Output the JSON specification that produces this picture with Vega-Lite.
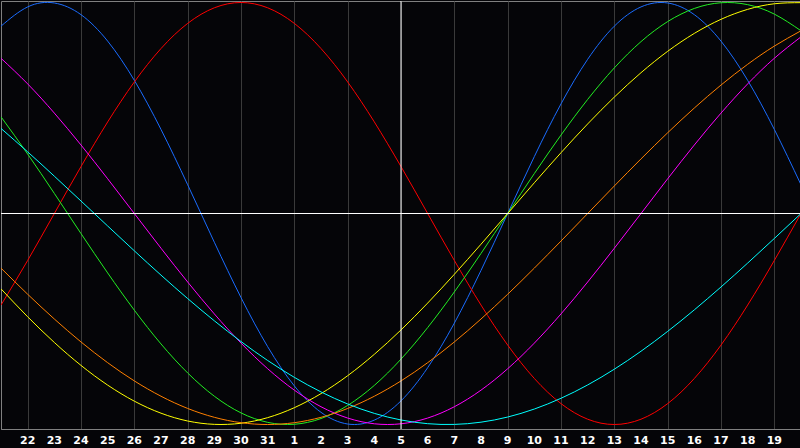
{
  "$schema": "https://vega.github.io/schema/vega-lite/v6.json",
  "width": 800,
  "height": 428,
  "padding": 0,
  "background": "#050508",
  "config": {
    "view": {"stroke": "#808080", "strokeWidth": 1, "fill": "#050508"}
  },
  "datasets": {
    "curves": [
      {"d":0,"v":0.8879,"s":"Physical"},{"d":1,"v":0.9791,"s":"Physical"},{"d":2,"v":0.9977,"s":"Physical"},{"d":3,"v":0.9423,"s":"Physical"},{"d":4,"v":0.8170,"s":"Physical"},{"d":5,"v":0.6311,"s":"Physical"},{"d":6,"v":0.3984,"s":"Physical"},{"d":7,"v":0.1362,"s":"Physical"},{"d":8,"v":-0.1362,"s":"Physical"},{"d":9,"v":-0.3984,"s":"Physical"},{"d":10,"v":-0.6311,"s":"Physical"},{"d":11,"v":-0.8170,"s":"Physical"},{"d":12,"v":-0.9423,"s":"Physical"},{"d":13,"v":-0.9977,"s":"Physical"},{"d":14,"v":-0.9791,"s":"Physical"},{"d":15,"v":-0.8879,"s":"Physical"},{"d":16,"v":-0.7308,"s":"Physical"},{"d":17,"v":-0.5196,"s":"Physical"},{"d":18,"v":-0.2698,"s":"Physical"},{"d":19,"v":0,"s":"Physical"},{"d":20,"v":0.2698,"s":"Physical"},{"d":21,"v":0.5196,"s":"Physical"},{"d":22,"v":0.7308,"s":"Physical"},{"d":23,"v":0.8879,"s":"Physical"},{"d":24,"v":0.9791,"s":"Physical"},{"d":25,"v":0.9977,"s":"Physical"},{"d":26,"v":0.9423,"s":"Physical"},{"d":27,"v":0.8170,"s":"Physical"},{"d":28,"v":0.6311,"s":"Physical"},{"d":29,"v":0.3984,"s":"Physical"},{"d":30,"v":0.1362,"s":"Physical"},

      {"d":0,"v":-0.4339,"s":"Emotional"},{"d":1,"v":-0.2225,"s":"Emotional"},{"d":2,"v":0,"s":"Emotional"},{"d":3,"v":0.2225,"s":"Emotional"},{"d":4,"v":0.4339,"s":"Emotional"},{"d":5,"v":0.6235,"s":"Emotional"},{"d":6,"v":0.7818,"s":"Emotional"},{"d":7,"v":0.9010,"s":"Emotional"},{"d":8,"v":0.9749,"s":"Emotional"},{"d":9,"v":1,"s":"Emotional"},{"d":10,"v":0.9749,"s":"Emotional"},{"d":11,"v":0.9010,"s":"Emotional"},{"d":12,"v":0.7818,"s":"Emotional"},{"d":13,"v":0.6235,"s":"Emotional"},{"d":14,"v":0.4339,"s":"Emotional"},{"d":15,"v":0.2225,"s":"Emotional"},{"d":16,"v":0,"s":"Emotional"},{"d":17,"v":-0.2225,"s":"Emotional"},{"d":18,"v":-0.4339,"s":"Emotional"},{"d":19,"v":-0.6235,"s":"Emotional"},{"d":20,"v":-0.7818,"s":"Emotional"},{"d":21,"v":-0.9010,"s":"Emotional"},{"d":22,"v":-0.9749,"s":"Emotional"},{"d":23,"v":-1,"s":"Emotional"},{"d":24,"v":-0.9749,"s":"Emotional"},{"d":25,"v":-0.9010,"s":"Emotional"},{"d":26,"v":-0.7818,"s":"Emotional"},{"d":27,"v":-0.6235,"s":"Emotional"},{"d":28,"v":-0.4339,"s":"Emotional"},{"d":29,"v":-0.2225,"s":"Emotional"},{"d":30,"v":0,"s":"Emotional"},

      {"d":0,"v":0.4582,"s":"Intellectual"},{"d":1,"v":0.2817,"s":"Intellectual"},{"d":2,"v":0.0951,"s":"Intellectual"},{"d":3,"v":-0.0951,"s":"Intellectual"},{"d":4,"v":-0.2817,"s":"Intellectual"},{"d":5,"v":-0.4582,"s":"Intellectual"},{"d":6,"v":-0.6182,"s":"Intellectual"},{"d":7,"v":-0.7557,"s":"Intellectual"},{"d":8,"v":-0.8660,"s":"Intellectual"},{"d":9,"v":-0.9450,"s":"Intellectual"},{"d":10,"v":-0.9898,"s":"Intellectual"},{"d":11,"v":-0.9989,"s":"Intellectual"},{"d":12,"v":-0.9718,"s":"Intellectual"},{"d":13,"v":-0.9096,"s":"Intellectual"},{"d":14,"v":-0.8146,"s":"Intellectual"},{"d":15,"v":-0.6901,"s":"Intellectual"},{"d":16,"v":-0.5406,"s":"Intellectual"},{"d":17,"v":-0.3717,"s":"Intellectual"},{"d":18,"v":-0.1893,"s":"Intellectual"},{"d":19,"v":0,"s":"Intellectual"},{"d":20,"v":0.1893,"s":"Intellectual"},{"d":21,"v":0.3717,"s":"Intellectual"},{"d":22,"v":0.5406,"s":"Intellectual"},{"d":23,"v":0.6901,"s":"Intellectual"},{"d":24,"v":0.8146,"s":"Intellectual"},{"d":25,"v":0.9096,"s":"Intellectual"},{"d":26,"v":0.9718,"s":"Intellectual"},{"d":27,"v":0.9989,"s":"Intellectual"},{"d":28,"v":0.9898,"s":"Intellectual"},{"d":29,"v":0.9450,"s":"Intellectual"},{"d":30,"v":0.8660,"s":"Intellectual"},

      {"d":0,"v":0.7357,"s":"Intuitive"},{"d":1,"v":0.6142,"s":"Intuitive"},{"d":2,"v":0.4759,"s":"Intuitive"},{"d":3,"v":0.3247,"s":"Intuitive"},{"d":4,"v":0.1646,"s":"Intuitive"},{"d":5,"v":0,"s":"Intuitive"},{"d":6,"v":-0.1646,"s":"Intuitive"},{"d":7,"v":-0.3247,"s":"Intuitive"},{"d":8,"v":-0.4759,"s":"Intuitive"},{"d":9,"v":-0.6142,"s":"Intuitive"},{"d":10,"v":-0.7357,"s":"Intuitive"},{"d":11,"v":-0.8372,"s":"Intuitive"},{"d":12,"v":-0.9158,"s":"Intuitive"},{"d":13,"v":-0.9694,"s":"Intuitive"},{"d":14,"v":-0.9966,"s":"Intuitive"},{"d":15,"v":-0.9966,"s":"Intuitive"},{"d":16,"v":-0.9694,"s":"Intuitive"},{"d":17,"v":-0.9158,"s":"Intuitive"},{"d":18,"v":-0.8372,"s":"Intuitive"},{"d":19,"v":-0.7357,"s":"Intuitive"},{"d":20,"v":-0.6142,"s":"Intuitive"},{"d":21,"v":-0.4759,"s":"Intuitive"},{"d":22,"v":-0.3247,"s":"Intuitive"},{"d":23,"v":-0.1646,"s":"Intuitive"},{"d":24,"v":0,"s":"Intuitive"},{"d":25,"v":0.1646,"s":"Intuitive"},{"d":26,"v":0.3247,"s":"Intuitive"},{"d":27,"v":0.4759,"s":"Intuitive"},{"d":28,"v":0.6142,"s":"Intuitive"},{"d":29,"v":0.7357,"s":"Intuitive"},{"d":30,"v":0.8372,"s":"Intuitive"},

      {"d":0,"v":-0.3572,"s":"Aesthetic"},{"d":1,"v":-0.4894,"s":"Aesthetic"},{"d":2,"v":-0.6112,"s":"Aesthetic"},{"d":3,"v":-0.7199,"s":"Aesthetic"},{"d":4,"v":-0.8133,"s":"Aesthetic"},{"d":5,"v":-0.8894,"s":"Aesthetic"},{"d":6,"v":-0.9464,"s":"Aesthetic"},{"d":7,"v":-0.9834,"s":"Aesthetic"},{"d":8,"v":-0.9993,"s":"Aesthetic"},{"d":9,"v":-0.9940,"s":"Aesthetic"},{"d":10,"v":-0.9675,"s":"Aesthetic"},{"d":11,"v":-0.9203,"s":"Aesthetic"},{"d":12,"v":-0.8536,"s":"Aesthetic"},{"d":13,"v":-0.7687,"s":"Aesthetic"},{"d":14,"v":-0.6673,"s":"Aesthetic"},{"d":15,"v":-0.5518,"s":"Aesthetic"},{"d":16,"v":-0.4245,"s":"Aesthetic"},{"d":17,"v":-0.2881,"s":"Aesthetic"},{"d":18,"v":-0.1456,"s":"Aesthetic"},{"d":19,"v":0,"s":"Aesthetic"},{"d":20,"v":0.1456,"s":"Aesthetic"},{"d":21,"v":0.2881,"s":"Aesthetic"},{"d":22,"v":0.4245,"s":"Aesthetic"},{"d":23,"v":0.5518,"s":"Aesthetic"},{"d":24,"v":0.6673,"s":"Aesthetic"},{"d":25,"v":0.7687,"s":"Aesthetic"},{"d":26,"v":0.8536,"s":"Aesthetic"},{"d":27,"v":0.9203,"s":"Aesthetic"},{"d":28,"v":0.9675,"s":"Aesthetic"},{"d":29,"v":0.9940,"s":"Aesthetic"},{"d":30,"v":0.9993,"s":"Aesthetic"},

      {"d":0,"v":-0.2588,"s":"Awareness"},{"d":1,"v":-0.3827,"s":"Awareness"},{"d":2,"v":-0.5,"s":"Awareness"},{"d":3,"v":-0.6088,"s":"Awareness"},{"d":4,"v":-0.7071,"s":"Awareness"},{"d":5,"v":-0.7934,"s":"Awareness"},{"d":6,"v":-0.8660,"s":"Awareness"},{"d":7,"v":-0.9239,"s":"Awareness"},{"d":8,"v":-0.9659,"s":"Awareness"},{"d":9,"v":-0.9914,"s":"Awareness"},{"d":10,"v":-1,"s":"Awareness"},{"d":11,"v":-0.9914,"s":"Awareness"},{"d":12,"v":-0.9659,"s":"Awareness"},{"d":13,"v":-0.9239,"s":"Awareness"},{"d":14,"v":-0.8660,"s":"Awareness"},{"d":15,"v":-0.7934,"s":"Awareness"},{"d":16,"v":-0.7071,"s":"Awareness"},{"d":17,"v":-0.6088,"s":"Awareness"},{"d":18,"v":-0.5,"s":"Awareness"},{"d":19,"v":-0.3827,"s":"Awareness"},{"d":20,"v":-0.2588,"s":"Awareness"},{"d":21,"v":-0.1305,"s":"Awareness"},{"d":22,"v":0,"s":"Awareness"},{"d":23,"v":0.1305,"s":"Awareness"},{"d":24,"v":0.2588,"s":"Awareness"},{"d":25,"v":0.3827,"s":"Awareness"},{"d":26,"v":0.5,"s":"Awareness"},{"d":27,"v":0.6088,"s":"Awareness"},{"d":28,"v":0.7071,"s":"Awareness"},{"d":29,"v":0.7934,"s":"Awareness"},{"d":30,"v":0.8660,"s":"Awareness"},

      {"d":0,"v":0.4031,"s":"Spiritual"},{"d":1,"v":0.2921,"s":"Spiritual"},{"d":2,"v":0.1769,"s":"Spiritual"},{"d":3,"v":0.0592,"s":"Spiritual"},{"d":4,"v":-0.0592,"s":"Spiritual"},{"d":5,"v":-0.1769,"s":"Spiritual"},{"d":6,"v":-0.2921,"s":"Spiritual"},{"d":7,"v":-0.4031,"s":"Spiritual"},{"d":8,"v":-0.5085,"s":"Spiritual"},{"d":9,"v":-0.6068,"s":"Spiritual"},{"d":10,"v":-0.6966,"s":"Spiritual"},{"d":11,"v":-0.7765,"s":"Spiritual"},{"d":12,"v":-0.8456,"s":"Spiritual"},{"d":13,"v":-0.9028,"s":"Spiritual"},{"d":14,"v":-0.9473,"s":"Spiritual"},{"d":15,"v":-0.9786,"s":"Spiritual"},{"d":16,"v":-0.9961,"s":"Spiritual"},{"d":17,"v":-0.9996,"s":"Spiritual"},{"d":18,"v":-0.9890,"s":"Spiritual"},{"d":19,"v":-0.9646,"s":"Spiritual"},{"d":20,"v":-0.9267,"s":"Spiritual"},{"d":21,"v":-0.8757,"s":"Spiritual"},{"d":22,"v":-0.8125,"s":"Spiritual"},{"d":23,"v":-0.7378,"s":"Spiritual"},{"d":24,"v":-0.6528,"s":"Spiritual"},{"d":25,"v":-0.5586,"s":"Spiritual"},{"d":26,"v":-0.4566,"s":"Spiritual"},{"d":27,"v":-0.3482,"s":"Spiritual"},{"d":28,"v":-0.2349,"s":"Spiritual"},{"d":29,"v":-0.1183,"s":"Spiritual"},{"d":30,"v":0,"s":"Spiritual"}
    ],
    "days": [
      {"d":1,"label":"22"},{"d":2,"label":"23"},{"d":3,"label":"24"},{"d":4,"label":"25"},{"d":5,"label":"26"},{"d":6,"label":"27"},{"d":7,"label":"28"},{"d":8,"label":"29"},{"d":9,"label":"30"},{"d":10,"label":"31"},
      {"d":11,"label":"1"},{"d":12,"label":"2"},{"d":13,"label":"3"},{"d":14,"label":"4"},{"d":15,"label":"5"},{"d":16,"label":"6"},{"d":17,"label":"7"},{"d":18,"label":"8"},{"d":19,"label":"9"},{"d":20,"label":"10"},
      {"d":21,"label":"11"},{"d":22,"label":"12"},{"d":23,"label":"13"},{"d":24,"label":"14"},{"d":25,"label":"15"},{"d":26,"label":"16"},{"d":27,"label":"17"},{"d":28,"label":"18"},{"d":29,"label":"19"}
    ],
    "zero": [{"v": 0}],
    "today": [{"d": 15}]
  },
  "layer": [
    {
      "data": {"name": "curves"},
      "mark": {"type": "line", "strokeWidth": 1, "interpolate": "natural", "clip": true},
      "encoding": {
        "x": {
          "field": "d", "type": "quantitative",
          "scale": {"domain": [0, 30], "nice": false, "zero": false},
          "axis": {
            "title": null,
            "values": [1,2,3,4,5,6,7,8,9,10,11,12,13,14,15,16,17,18,19,20,21,22,23,24,25,26,27,28,29],
            "grid": true, "gridColor": "#3a3a3a", "gridWidth": 1, "gridOpacity": 1,
            "ticks": false,
            "labels": false,
            "domainColor": "#808080",
            "minExtent": 20,
            "maxExtent": 20
          }
        },
        "y": {
          "field": "v", "type": "quantitative",
          "scale": {"domain": [-1.0213, 1.0071], "nice": false, "zero": false},
          "axis": null
        },
        "color": {
          "field": "s", "type": "nominal",
          "scale": {
            "domain": ["Physical", "Emotional", "Intellectual", "Intuitive", "Aesthetic", "Awareness", "Spiritual"],
            "range": ["#1a6cff", "#ff0000", "#22ee22", "#ff00ff", "#ffff00", "#ff8000", "#00ffff"]
          },
          "legend": null
        }
      }
    },
    {
      "data": {"name": "zero"},
      "mark": {"type": "rule", "color": "#ffffff", "strokeWidth": 1},
      "encoding": {"y": {"field": "v", "type": "quantitative"}}
    },
    {
      "data": {"name": "today"},
      "mark": {"type": "rule", "color": "#ffffff", "strokeWidth": 1},
      "encoding": {"x": {"field": "d", "type": "quantitative"}}
    },
    {
      "data": {"name": "days"},
      "mark": {"type": "text", "color": "#ffffff", "font": "DejaVu Sans", "fontWeight": "bold", "fontSize": 11, "align": "center", "baseline": "alphabetic", "clip": false},
      "encoding": {
        "x": {"field": "d", "type": "quantitative"},
        "y": {"datum": -1.0924},
        "text": {"field": "label"}
      }
    }
  ]
}
